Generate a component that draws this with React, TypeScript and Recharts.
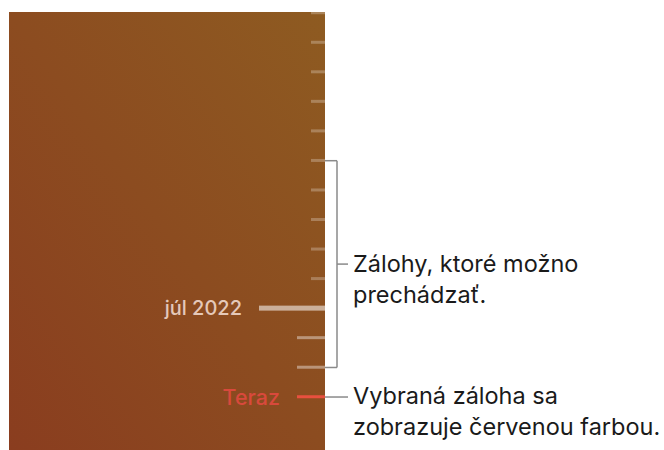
import {
  ComposedChart,
  Bar,
  XAxis,
  YAxis,
  CartesianGrid,
  LabelList,
  ReferenceLine,
} from "recharts";

// backups on the timeline, oldest at the top
const backupSlots = [0, 1, 2, 3, 4, 5, 6, 7, 8, 9, 10, 11, 12, 13];
const backupKinds = [
  "minor", "minor", "minor", "minor", "minor",
  "minor", "minor", "minor", "minor", "minor",
  "month", "recent", "recent", "current",
];
const backupLabels = ["", "", "", "", "", "", "", "", "", "", "júl 2022", "", "", "Teraz"];

// range of backups that can be browsed, and the selected one
const browsableRange = [5, 12];
const selectedSlot = 13;

const browsableText = ["Zálohy, ktoré možno", "prechádzať."];
const selectedText = ["Vybraná záloha sa", "zobrazuje červenou farbou."];

const tickLength: Record<string, number> = { minor: 14, month: 66, recent: 28, current: 28 };
const tickThickness: Record<string, number> = { minor: 3, month: 5, recent: 3, current: 3 };
const tickColor: Record<string, string> = {
  minor: "rgba(255,255,255,0.26)",
  month: "rgba(255,255,255,0.55)",
  recent: "rgba(255,255,255,0.4)",
  current: "#e8503f",
};
const labelColor: Record<string, string> = {
  month: "rgba(255,236,228,0.78)",
  current: "#d8493c",
};
const labelSize: Record<string, number> = { month: 20, current: 21.5 };

const data = backupSlots.map((slot, i) => ({
  slot,
  kind: backupKinds[i],
  label: backupLabels[i],
  len: tickLength[backupKinds[i]],
}));

const FONT = "Inter, 'Noto Sans', sans-serif";
const STEP = 29.54; // px per slot
const PLOT_TOP = 12;
const PLOT_H = 438;
const yMin = -(13 - PLOT_TOP) / STEP;
const yMax = yMin + PLOT_H / STEP;

function TickShape(props: any) {
  const { x, y, width, height, payload } = props;
  const x0 = Math.min(x, x + width);
  const w = Math.abs(width);
  const cy = y + height / 2;
  const t = tickThickness[payload.kind];
  return <rect x={x0} y={cy - t / 2} width={w} height={t} fill={tickColor[payload.kind]} />;
}

function TickLabel(props: any) {
  const { x, y, width, height, value, index } = props;
  if (!value) return null;
  const kind = data[index].kind;
  const left = Math.min(x, x + width);
  return (
    <text
      x={left - 17}
      y={y + height / 2}
      textAnchor="end"
      dominantBaseline="central"
      fill={labelColor[kind]}
      fontFamily={FONT}
      fontSize={labelSize[kind]}
      fontWeight={500}
    >
      {value}
    </text>
  );
}

function noteLabel(lines: string[], yShift: number) {
  return (props: any) => {
    const vb = props.viewBox;
    const tx = vb.x + vb.width + 5;
    const ty = vb.y + yShift;
    return (
      <text x={tx} y={ty} fontFamily={FONT} fontSize={23.5} fill="#1a1a1a">
        {lines.map((l, i) => (
          <tspan key={i} x={tx} dy={i === 0 ? 0 : 31}>
            {l}
          </tspan>
        ))}
      </text>
    );
  };
}

export default function App() {
  const [b0, b1] = browsableRange;
  const mid = (b0 + b1) / 2;
  const bracketStroke = "#8a8a8a";
  return (
    <div style={{ position: "absolute", left: 0, top: 0, background: "#fff" }}>
      <ComposedChart
        width={664}
        height={450}
        layout="vertical"
        data={data}
        margin={{ top: PLOT_TOP, right: 339, bottom: 0, left: 9 }}
      >
        <defs>
          <linearGradient id="panelBg" x1="1" y1="0" x2="0" y2="1">
            <stop offset="0%" stopColor="#8e5b21" />
            <stop offset="100%" stopColor="#8a3d1f" />
          </linearGradient>
        </defs>
        <CartesianGrid horizontal={false} vertical={false} fill="url(#panelBg)" />
        <XAxis type="number" domain={[0, 316]} reversed hide allowDataOverflow />
        <YAxis type="number" dataKey="slot" domain={[yMin, yMax]} hide allowDataOverflow />
        <Bar dataKey="len" barSize={3} shape={<TickShape />} isAnimationActive={false}>
          <LabelList dataKey="label" content={<TickLabel />} />
        </Bar>

        {/* bracket around browsable backups */}
        <ReferenceLine
          segment={[{ x: 0, y: b0 }, { x: -12, y: b0 }]}
          stroke={bracketStroke}
          strokeWidth={1.5}
          ifOverflow="visible"
        />
        <ReferenceLine
          segment={[{ x: -12, y: b0 }, { x: -12, y: b1 }]}
          stroke={bracketStroke}
          strokeWidth={1.5}
          ifOverflow="visible"
        />
        <ReferenceLine
          segment={[{ x: 0, y: b1 }, { x: -12, y: b1 }]}
          stroke={bracketStroke}
          strokeWidth={1.5}
          ifOverflow="visible"
        />
        <ReferenceLine
          segment={[{ x: -12, y: mid }, { x: -23, y: mid }]}
          stroke={bracketStroke}
          strokeWidth={1.5}
          ifOverflow="visible"
          label={{ content: noteLabel(browsableText, 8) }}
        />
        {/* pointer to the selected backup */}
        <ReferenceLine
          segment={[{ x: 0, y: selectedSlot }, { x: -23, y: selectedSlot }]}
          stroke={bracketStroke}
          strokeWidth={1.5}
          ifOverflow="visible"
          label={{ content: noteLabel(selectedText, 7) }}
        />
      </ComposedChart>
    </div>
  );
}
